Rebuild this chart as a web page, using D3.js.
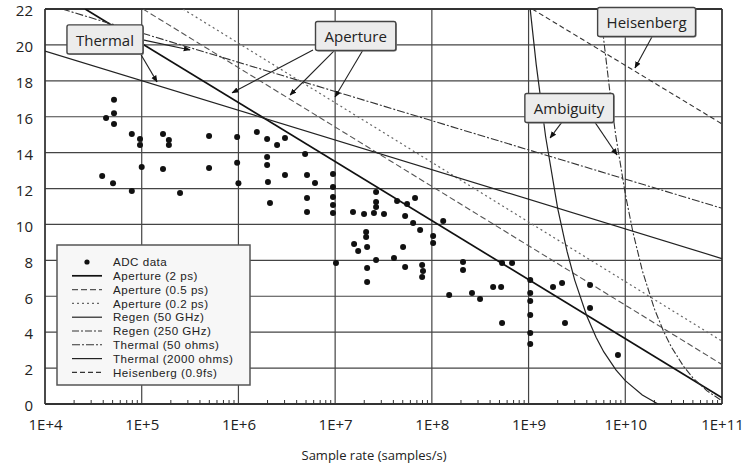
<!DOCTYPE html>
<html>
<head>
<meta charset="utf-8">
<script src="https://cdn.jsdelivr.net/npm/d3@7/dist/d3.min.js"></script>
<style>
  html, body { margin: 0; padding: 0; background: #fff; }
  svg { display: block; }
  text { font-family: "Open Sans", "Noto Sans", sans-serif; fill: #222; }
</style>
</head>
<body>
<svg id="chart" width="750" height="468"></svg>
<script>
// ---------------- DATA ----------------
const xTicks = [1e4, 1e5, 1e6, 1e7, 1e8, 1e9, 1e10, 1e11];
const xTickLabels = ["1E+4", "1E+5", "1E+6", "1E+7", "1E+8", "1E+9", "1E+10", "1E+11"];
const yTicks = [0, 2, 4, 6, 8, 10, 12, 14, 16, 18, 20, 22];
const xTitle = "Sample rate (samples/s)";

// ADC survey points: sample rate (samples/s) and resolution (bits)
const adcRate = [
  5.17e4, 5.17e4, 4.28e4, 5.17e4, 7.9e4, 9.6e4, 9.6e4, 1.66e5, 1.91e5, 1.91e5,
  4.97e5, 9.7e5, 1.0e5, 1.66e5, 4.97e5, 9.7e5, 3.9e4, 5.05e4, 7.9e4, 2.49e5,
  1.0e6, 1.55e6, 1.98e6, 2.51e6, 3.03e6, 1.98e6, 1.98e6, 4.89e6, 2.02e6, 3.03e6,
  5.12e6, 6.19e6, 9.5e6, 9.5e6, 2.12e6, 5.12e6, 5.12e6, 9.5e6, 9.5e6, 9.5e6,
  2.65e7, 2.65e7, 2.65e7, 2.52e7, 1.53e7, 1.99e7, 3.2e7, 4.37e7, 5.54e7, 6.7e7,
  5.29e7, 6.4e7, 7.56e7, 1.31e8, 1.03e8, 1.03e8, 2.09e7, 2.09e7, 1.57e7, 1.73e7,
  2.14e7, 5.04e7, 1.02e7, 2.65e7, 4.06e7, 2.14e7, 5.29e7, 7.93e7, 8.1e7, 7.93e7,
  2.14e7, 2.1e8, 2.1e8, 1.51e8, 2.6e8, 3.15e8, 4.3e8, 5.2e8, 5.32e8, 6.75e8,
  1.04e9, 1.04e9, 1.04e9, 1.04e9, 1.04e9, 1.04e9, 5.32e8, 1.79e9, 2.22e9, 4.32e9,
  4.32e9, 2.38e9, 8.4e9
];
const adcBits = [
  16.94, 16.2, 15.93, 15.6, 15.04, 14.76, 14.43, 15.04, 14.7, 14.43,
  14.93, 14.87, 13.2, 13.09, 13.15, 13.43, 12.7, 12.3, 11.87, 11.75,
  12.3, 15.15, 14.76, 14.43, 14.82, 13.76, 13.31, 13.93, 12.37, 12.76,
  12.76, 12.31, 12.81, 12.09, 11.2, 11.48, 10.7, 11.53, 11.09, 10.64,
  11.81, 11.25, 10.97, 10.64, 10.7, 10.58, 10.58, 11.31, 11.14, 11.48,
  10.47, 10.08, 9.69, 10.19, 9.36, 8.97, 9.58, 9.3, 8.91, 8.52,
  8.75, 8.75, 7.86, 8.02, 8.13, 7.58, 7.63, 7.74, 7.41, 7.08,
  6.8, 7.91, 7.47, 6.07, 6.18, 5.85, 6.52, 6.52, 7.86, 7.86,
  6.91, 6.18, 5.74, 4.96, 3.96, 3.34, 4.51, 6.52, 6.74, 6.63,
  5.35, 4.51, 2.73
];

// Limit lines: [sample rate, bits]
const aperture2ps   = [[2.6e4, 22], [1e11, 0.35]];
const aperture05ps  = [[1.03e5, 22], [1e11, 2.2]];
const aperture02ps  = [[2.67e5, 22], [1e11, 3.5]];
const regen50GHz    = [[1.04e9, 21.98], [1.2e9, 18.9], [1.5e9, 14.9], [2e9, 10.9], [2.5e9, 8.5],
                       [3e9, 6.9], [4e9, 4.9], [5e9, 3.7], [6e9, 2.9], [8e9, 1.9], [1e10, 1.3],
                       [1.5e10, 0.5], [2.18e10, 0]];
const regen250GHz   = [[5.5e9, 22.17], [6e9, 20.23], [7e9, 17.19], [8e9, 14.9], [1e10, 11.7],
                       [1.2e10, 9.57], [1.5e10, 7.43], [2e10, 5.3], [2.5e10, 4.02], [3e10, 3.17],
                       [4e10, 2.1], [5e10, 1.46], [7e10, 0.73], [1e11, 0.18]];
const thermal50     = [[1.5e4, 22], [1e11, 10.9]];
const thermal2000   = [[1e4, 19.66], [1e11, 8.1]];
const heisenberg    = [[1.09e9, 22], [1e11, 15.6]];

const seriesNames = ["ADC data", "Aperture (2 ps)", "Aperture (0.5 ps)", "Aperture (0.2 ps)",
  "Regen (50 GHz)", "Regen (250 GHz)", "Thermal (50 ohms)", "Thermal (2000 ohms)", "Heisenberg (0.9fs)"];
const seriesData = [null, aperture2ps, aperture05ps, aperture02ps, regen50GHz, regen250GHz,
  thermal50, thermal2000, heisenberg];

// Callout labels: box centre and arrows [from, to] in data units
const callouts = [
  { text: "Thermal", at: [4.17e4, 20.28],
    arrows: [[[1.03e5, 20.28], [3.16e5, 19.72]], [[9.6e4, 19.55], [1.44e5, 17.94]]] },
  { text: "Aperture", at: [1.63e7, 20.47],
    arrows: [[[5.9e6, 19.72], [8.6e5, 17.33]], [[9.98e6, 19.72], [3.42e6, 17.21]], [[1.94e7, 19.72], [9.98e6, 17.1]]] },
  { text: "Ambiguity", at: [2.62e9, 16.46],
    arrows: [[[2.38e9, 15.92], [1.67e9, 14.82]], [[4.54e9, 15.92], [8.22e9, 13.87]]] },
  { text: "Heisenberg", at: [1.66e10, 21.25],
    arrows: [[[1.89e10, 20.45], [1.26e10, 18.72]]] }
];

// ---------------- STYLES ----------------
const styles = {
  "Aperture (2 ps)":     { stroke: "#111", width: 1.7, dash: null },
  "Aperture (0.5 ps)":   { stroke: "#555", width: 1.1, dash: "6,3" },
  "Aperture (0.2 ps)":   { stroke: "#666", width: 1.2, dash: "2,3" },
  "Regen (50 GHz)":      { stroke: "#222", width: 1.2, dash: null },
  "Regen (250 GHz)":     { stroke: "#333", width: 1.1, dash: "7,2,2,2" },
  "Thermal (50 ohms)":   { stroke: "#333", width: 1.1, dash: "8,2,2,2" },
  "Thermal (2000 ohms)": { stroke: "#222", width: 1.2, dash: null },
  "Heisenberg (0.9fs)":  { stroke: "#333", width: 1.1, dash: "5,3" }
};

// ---------------- CHART ----------------
(function () {
const svg = d3.select("#chart");
const pL = 45, pR = 722, pT = 9, pB = 404;
const x = d3.scaleLog().domain([1e4, 1e11]).range([pL, pR]);
const y = d3.scaleLinear().domain([0, 22]).range([pB, pT]);

const defs = svg.append("defs");
defs.append("marker").attr("id", "arrow").attr("viewBox", "0 0 10 10")
  .attr("refX", 9).attr("refY", 5).attr("markerWidth", 7).attr("markerHeight", 7)
  .attr("markerUnits", "userSpaceOnUse").attr("orient", "auto")
  .append("path").attr("d", "M0,1 L10,5 L0,9 Z").attr("fill", "#111");
defs.append("clipPath").attr("id", "plotclip").append("rect")
  .attr("x", pL).attr("y", pT).attr("width", pR - pL).attr("height", pB - pT);

// Grid
const grid = svg.append("g");
grid.selectAll("line.h").data(yTicks).join("line").attr("class", "h")
  .attr("x1", pL).attr("x2", pR).attr("y1", d => y(d)).attr("y2", d => y(d))
  .attr("stroke", "#444").attr("stroke-width", 1.2);
grid.selectAll("line.v").data(xTicks).join("line").attr("class", "v")
  .attr("x1", d => x(d)).attr("x2", d => x(d)).attr("y1", pT).attr("y2", pB)
  .attr("stroke", "#444").attr("stroke-width", 1.2);
svg.append("line").attr("x1", pL).attr("x2", pR).attr("y1", pT).attr("y2", pT)
  .attr("stroke", "#333").attr("stroke-width", 2);
svg.append("line").attr("x1", pL).attr("x2", pR).attr("y1", pB).attr("y2", pB)
  .attr("stroke", "#333").attr("stroke-width", 2);
svg.append("line").attr("x1", pL).attr("x2", pL).attr("y1", pT).attr("y2", pB)
  .attr("stroke", "#333").attr("stroke-width", 1.5);
svg.append("line").attr("x1", pR).attr("x2", pR).attr("y1", pT).attr("y2", pB)
  .attr("stroke", "#333").attr("stroke-width", 1.5);

// Minor ticks on bottom axis
const minor = [];
xTicks.slice(0, -1).forEach(d => { for (let k = 2; k <= 9; k++) minor.push(d * k); });
svg.append("g").selectAll("line").data(minor).join("line")
  .attr("x1", d => x(d)).attr("x2", d => x(d)).attr("y1", pB).attr("y2", pB - 4)
  .attr("stroke", "#333").attr("stroke-width", 1);

// Axes labels via d3 axes
const xAxis = d3.axisBottom(x).tickValues(xTicks).tickFormat((d, i) => xTickLabels[i]).tickSize(0).tickPadding(15);
const gx = svg.append("g").attr("transform", `translate(0,${pB})`).call(xAxis);
gx.select(".domain").remove();
gx.selectAll("text").style("font-size", "15px").style("font-family", '"Open Sans", sans-serif').attr("fill", "#222");

const yAxis = d3.axisLeft(y).tickValues(yTicks).tickSize(0).tickPadding(12);
const gy = svg.append("g").attr("transform", `translate(${pL},0)`).call(yAxis);
gy.select(".domain").remove();
gy.selectAll("text").style("font-size", "15px").style("font-family", '"Open Sans", sans-serif')
  .attr("fill", "#222").attr("dy", "0.45em");

svg.append("text").attr("x", 374).attr("y", 460).attr("text-anchor", "middle")
  .style("font-size", "13px").text(xTitle);

// Lines
const lineGen = d3.line().x(d => x(d[0])).y(d => y(d[1]));
const linesG = svg.append("g").attr("clip-path", "url(#plotclip)");
seriesNames.forEach((name, i) => {
  if (!seriesData[i]) return;
  const s = styles[name];
  linesG.append("path").datum(seriesData[i]).attr("d", lineGen)
    .attr("fill", "none").attr("stroke", s.stroke).attr("stroke-width", s.width)
    .attr("stroke-dasharray", s.dash);
});

// Points
svg.append("g").selectAll("circle").data(adcRate.map((r, i) => [r, adcBits[i]])).join("circle")
  .attr("cx", d => x(d[0])).attr("cy", d => y(d[1])).attr("r", 3).attr("fill", "#111");

// Callouts
callouts.forEach(c => {
  const g = svg.append("g");
  c.arrows.forEach(a => {
    g.append("line").attr("x1", x(a[0][0])).attr("y1", y(a[0][1]))
      .attr("x2", x(a[1][0])).attr("y2", y(a[1][1]))
      .attr("stroke", "#222").attr("stroke-width", 1.1).attr("marker-end", "url(#arrow)");
  });
  const t = g.append("text").attr("x", x(c.at[0])).attr("y", y(c.at[1]))
    .attr("text-anchor", "middle").attr("dominant-baseline", "central")
    .style("font-size", "15px").text(c.text);
  const bb = t.node().getBBox();
  g.insert("rect", "text").attr("x", bb.x - 8).attr("y", bb.y - 4)
    .attr("width", bb.width + 18).attr("height", bb.height + 9).attr("rx", 2)
    .attr("fill", "#888");
  g.insert("rect", "text").attr("x", bb.x - 9).attr("y", bb.y - 5)
    .attr("width", bb.width + 18).attr("height", bb.height + 9).attr("rx", 2)
    .attr("fill", "#ececec").attr("stroke", "#444").attr("stroke-width", 1.4);
});

// Legend
const lg = svg.append("g");
lg.append("rect").attr("x", 57).attr("y", 245).attr("width", 193).attr("height", 140)
  .attr("fill", "#f7f7f7").attr("stroke", "#555").attr("stroke-width", 1.5);
seriesNames.forEach((name, i) => {
  const yy = 262 + i * 13.8;
  if (i === 0) {
    lg.append("circle").attr("cx", 87).attr("cy", yy).attr("r", 2.6).attr("fill", "#111");
  } else {
    const s = styles[name];
    lg.append("line").attr("x1", 72).attr("x2", 102).attr("y1", yy).attr("y2", yy)
      .attr("stroke", s.stroke).attr("stroke-width", s.width).attr("stroke-dasharray", s.dash);
  }
  lg.append("text").attr("x", 113).attr("y", yy + 4.2)
    .style("font-family", '"Liberation Sans", Arial, sans-serif')
    .style("font-size", "11.6px").style("letter-spacing", "0.5px").text(name);
});
})();
</script>
</body>
</html>
